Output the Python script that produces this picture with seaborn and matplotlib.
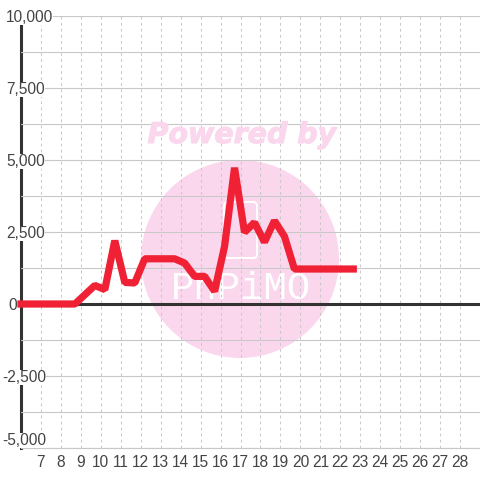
import matplotlib
matplotlib.use("Agg")
import matplotlib.pyplot as plt
import matplotlib.patheffects as pe
from matplotlib.patches import Circle, FancyBboxPatch
from matplotlib.transforms import IdentityTransform
from matplotlib.ticker import FixedLocator
import pandas as pd
import seaborn as sns

x_values = [6, 8.7, 9.7, 10.2, 10.7, 11.2, 11.7, 12.2, 12.7, 13.2, 13.7, 14.2, 14.7, 15.2, 15.7,
            16.2, 16.7, 17.2, 17.7, 18.2, 18.7, 19.2, 19.7, 22.65]
y_values = [0, 0, 645, 500, 2200, 750, 730, 1570, 1570, 1570, 1570, 1420, 960, 960, 440,
            2000, 4730, 2490, 2830, 2150, 2890, 2350, 1215, 1215]
x_ticks = list(range(7, 29))
y_major = [10000, 7500, 5000, 2500, 0, -2500, -5000]
y_major_labels = ["10,000", "7,500", "5,000", "2,500", "0", "-2,500", "-5,000"]
y_grid = [-3750, -1250, 1250, 3750, 6250, 8750]

W = H = 480
sns.set_theme(style="white")
plt.rcParams["font.family"] = ["Liberation Sans", "DejaVu Sans"]
fig = plt.figure(figsize=(4.8, 4.8), dpi=100, facecolor="white")
ax = fig.add_axes([21 / W, (H - 448) / H, (W - 21) / W, 432 / H])
ax.set_xlim(6, 29)
ax.set_ylim(-5000, 10000)
for s in ["top", "right"]:
    ax.spines[s].set_visible(False)
ax.spines["bottom"].set_color("#c8c8c8")
ax.spines["bottom"].set_linewidth(0.8)
ax.spines["bottom"].set_zorder(0.4)
ax.spines["left"].set_color("#333333")
ax.spines["left"].set_linewidth(2.2)
ax.spines["left"].set_zorder(0.4)
ax.set_axisbelow(True)
ax.patch.set_facecolor("white")

# watermark
ident = IdentityTransform()
pink = "#fbd7ee"
ax.add_patch(Circle((240, H - 259), 99, transform=ident, facecolor=pink, edgecolor="none", zorder=0.2, clip_on=False))
fig.text(242 / W, (H - 135) / H, "Powered by", color=pink, fontsize=20.5, fontweight="bold", style="italic",
         family="DejaVu Sans", ha="center", va="center", zorder=0,
         path_effects=[pe.withStroke(linewidth=0.8, foreground=pink)])
ax.add_patch(FancyBboxPatch((224, H - 258), 33, 56, boxstyle="round,pad=0,rounding_size=4", transform=ident,
                            facecolor="none", edgecolor="white", linewidth=1.4, zorder=0.25))
ax.text((241 - 21) / (W - 21), (448 - 289) / 432, "PhPiMO", transform=ax.transAxes, color="white",
        fontsize=28, family="Liberation Mono", ha="center", va="center", zorder=0.25)

ax.xaxis.set_major_locator(FixedLocator(x_ticks))
ax.yaxis.set_major_locator(FixedLocator(y_major))
ax.set_yticklabels(y_major_labels)
ax.yaxis.set_minor_locator(FixedLocator(y_grid))
ax.grid(True, axis="y", which="both", color="#c8c8c8", linewidth=0.8, linestyle="-")
ax.grid(True, axis="x", which="major", color="#c8c8c8", linewidth=0.75, linestyle=(0, (2.6, 3.2)))
ax.tick_params(axis="both", which="both", length=0, labelsize=11.2, labelcolor="#444444")
ax.tick_params(axis="x", pad=5)
for lab in ax.get_yticklabels():
    lab.set_horizontalalignment("left")
    lab.set_bbox(dict(facecolor="white", edgecolor="none", pad=0))
pads = [10.8, 10.8, 10.8, 10.8, 9.4, 13.7, 13.7]
for tick, p in zip(ax.yaxis.get_major_ticks(), pads):
    tick.set_pad(p)
ax.yaxis.get_major_ticks()[-1].label1.set_verticalalignment("bottom")

ax.axhline(0, color="#333333", linewidth=2.2, zorder=1)
df = pd.DataFrame({"x": x_values, "y": y_values})
sns.lineplot(data=df, x="x", y="y", ax=ax, color="#f02035", linewidth=5.2, sort=False, errorbar=None, zorder=3,
             solid_joinstyle="bevel", solid_capstyle="projecting", clip_on=False)
ax.set_xlabel("")
ax.set_ylabel("")
fig.savefig("out.png", dpi=100)
